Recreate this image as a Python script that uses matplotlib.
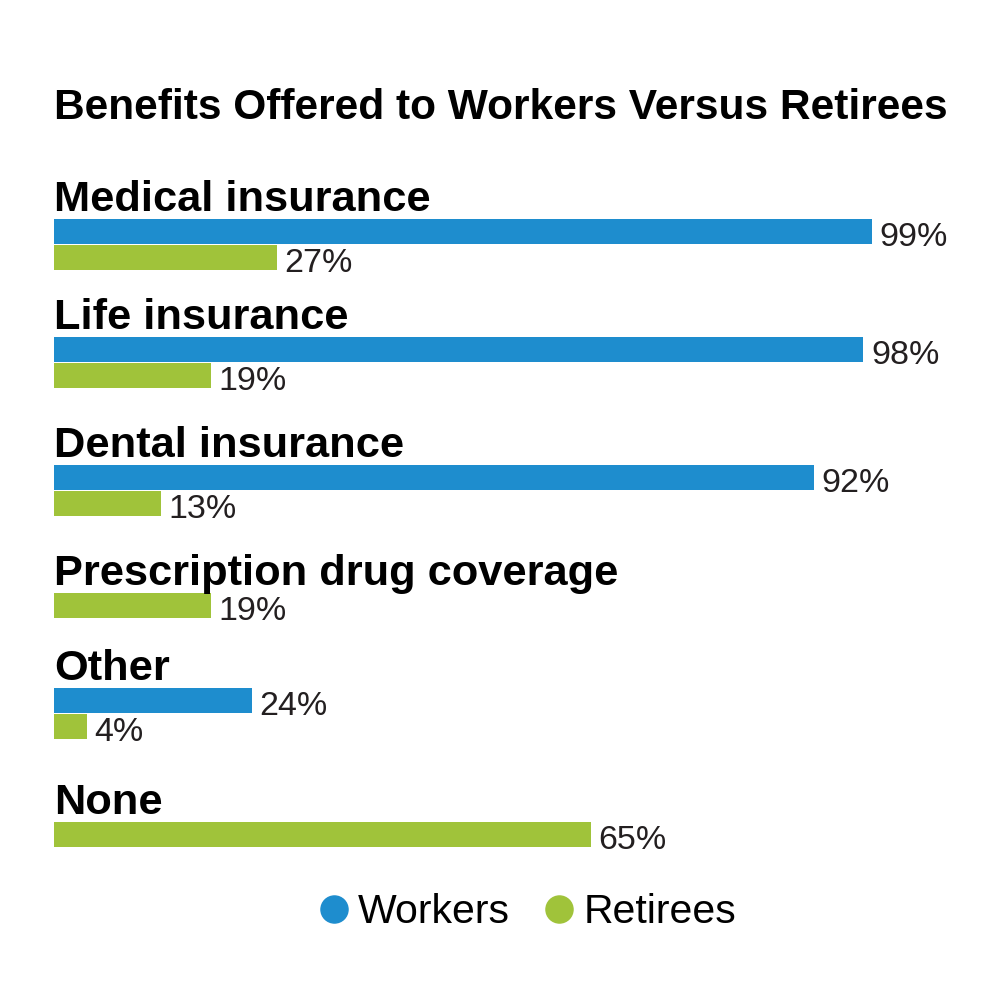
import matplotlib
matplotlib.use("Agg")
import matplotlib.pyplot as plt
from matplotlib.lines import Line2D

plt.rcParams['font.family'] = ['Liberation Sans', 'DejaVu Sans']

title = "Benefits Offered to Workers Versus Retirees"
categories = ["Medical insurance", "Life insurance", "Dental insurance",
              "Prescription drug coverage", "Other", "None"]
workers = [99, 98, 92, None, 24, None]
retirees = [27, 19, 13, 19, 4, 65]
series_names = ["Workers", "Retirees"]

BLUE = "#1E8DCE"
GREEN = "#A0C33A"
TEXT = "#231F20"

# layout (pixel rows, figure is 1000 px tall)
heading_baselines = [211, 329, 457, 585, 680, 814]
bar_h = 25
pitch = 26

fig = plt.figure(figsize=(10, 10), dpi=100)
ax = fig.add_axes([0.054, 0.0, 0.826, 1.0])
ax.set_xlim(0, 100)
ax.set_ylim(1000, 0)
ax.axis("off")

for cat, w, r, hb in zip(categories, workers, retirees, heading_baselines):
    ax.text(0, hb, cat, fontsize=31.2, fontweight="bold", color="black",
            va="baseline", ha="left")
    top = hb + 8
    for val, col in ((w, BLUE), (r, GREEN)):
        if val is None:
            continue
        yc = top + bar_h / 2
        ax.barh(yc, val, height=bar_h, color=col, left=0)
        ax.text(val + 0.9, top + bar_h + 2, f"{val}%", fontsize=24.5,
                color=TEXT, va="baseline", ha="left")
        top += pitch

fig.text(0.054, 1 - 0.119, title, fontsize=30.6, fontweight="bold",
         color="black", va="baseline", ha="left")

handles = [Line2D([], [], marker="o", linestyle="none", markersize=19.5,
                  markerfacecolor=c, markeredgecolor=c) for c in (BLUE, GREEN)]
fig.legend(handles, series_names, loc="center", bbox_to_anchor=(0.527, 0.088),
           ncol=2, frameon=False, fontsize=29.5, handlelength=0.8,
           handletextpad=0.2, columnspacing=0.8, labelcolor="black")

fig.savefig("out.png", dpi=100, facecolor="white")
